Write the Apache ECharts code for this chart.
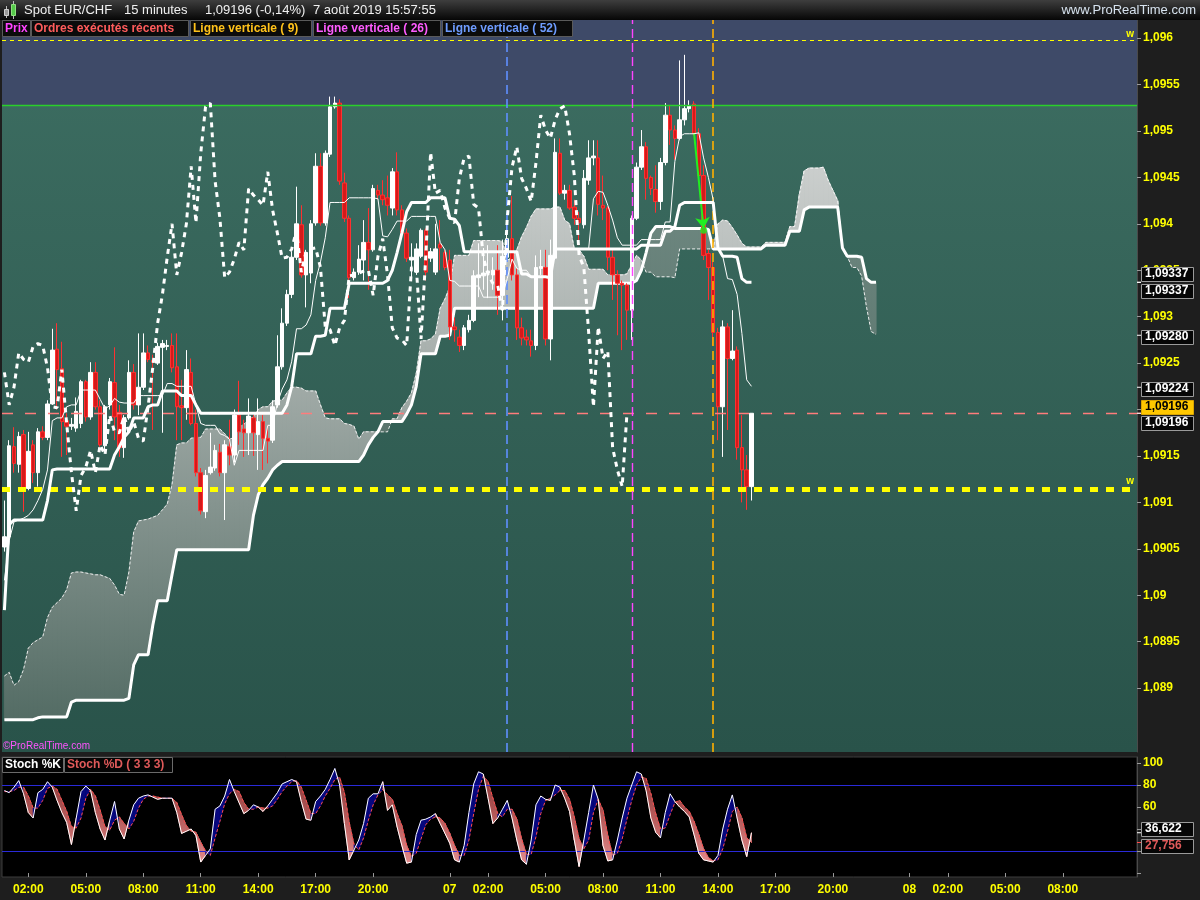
<!DOCTYPE html>
<html>
<head>
<meta charset="utf-8">
<title>Spot EUR/CHF 15 minutes</title>
<script src="https://cdn.jsdelivr.net/npm/echarts@6.0.0/dist/echarts.min.js"></script>
<style>
html,body{margin:0;padding:0;background:#1e1e1e;overflow:hidden;}
#chart{width:1200px;height:900px;}
</style>
</head>
<body>
<div id="chart"></div>
<script>
// ---------------- DATA ----------------
const opens = [
1.09052,1.09063,1.09160,1.09141,1.09173,1.09115,1.09162,1.09132,1.09176,1.09170,
1.09206,1.09265,1.09244,1.09188,1.09182,1.09180,1.09185,1.09230,1.09192,1.09240,
1.09203,1.09161,1.09205,1.09229,1.09197,1.09159,1.09191,1.09240,1.09205,1.09224,
1.09261,1.09253,1.09250,1.09267,1.09268,1.09269,1.09246,1.09204,1.09202,1.09240,
1.09185,1.09132,1.09090,1.09132,1.09137,1.09154,1.09132,1.09160,1.09151,1.09194,
1.09179,1.09175,1.09191,1.09173,1.09187,1.09169,1.09167,1.09205,1.09246,1.09293,
1.09324,1.09364,1.09399,1.09345,1.09347,1.09401,1.09462,1.09401,1.09475,1.09526,
1.09530,1.09444,1.09406,1.09342,1.09348,1.09361,1.09380,1.09372,1.09436,1.09431,
1.09428,1.09417,1.09456,1.09415,1.09390,1.09361,1.09348,1.09365,1.09393,1.09363,
1.09348,1.09378,1.09369,1.09361,1.09289,1.09278,1.09269,1.09286,1.09296,1.09342,
1.09344,1.09347,1.09345,1.09350,1.09323,1.09364,1.09384,1.09345,1.09288,1.09278,
1.09274,1.09269,1.09352,1.09353,1.09276,1.09363,1.09476,1.09433,1.09436,1.09418,
1.09406,1.09399,1.09447,1.09471,1.09471,1.09420,1.09417,1.09364,1.09345,1.09336,
1.09334,1.09307,1.09406,1.09461,1.09483,1.09450,1.09437,1.09424,1.09466,1.09517,
1.09501,1.09492,1.09512,1.09524,1.09529,1.09497,1.09452,1.09368,1.09353,1.09283,
1.09203,1.09289,1.09255,1.09264,1.09159,1.09135,1.09117];
const highs = [
1.09102,1.09167,1.09181,1.09176,1.09178,1.09176,1.09167,1.09180,1.09182,1.09210,
1.09287,1.09293,1.09273,1.09196,1.09191,1.09213,1.09232,1.09232,1.09251,1.09251,
1.09210,1.09205,1.09234,1.09267,1.09205,1.09194,1.09253,1.09249,1.09282,1.09282,
1.09269,1.09259,1.09272,1.09275,1.09275,1.09282,1.09282,1.09232,1.09264,1.09255,
1.09200,1.09137,1.09135,1.09175,1.09162,1.09163,1.09167,1.09189,1.09200,1.09231,
1.09189,1.09212,1.09194,1.09212,1.09194,1.09183,1.09210,1.09280,1.09309,1.09329,
1.09370,1.09440,1.09420,1.09372,1.09404,1.09476,1.09476,1.09479,1.09537,1.09537,
1.09534,1.09455,1.09409,1.09352,1.09377,1.09404,1.09417,1.09442,1.09442,1.09447,
1.09452,1.09460,1.09477,1.09420,1.09395,1.09379,1.09379,1.09395,1.09395,1.09374,
1.09400,1.09404,1.09372,1.09372,1.09299,1.09286,1.09291,1.09302,1.09350,1.09379,
1.09374,1.09377,1.09364,1.09377,1.09383,1.09399,1.09430,1.09352,1.09299,1.09286,
1.09286,1.09366,1.09372,1.09372,1.09383,1.09492,1.09492,1.09442,1.09442,1.09426,
1.09413,1.09458,1.09490,1.09490,1.09490,1.09452,1.09419,1.09372,1.09350,1.09339,
1.09336,1.09409,1.09466,1.09501,1.09488,1.09452,1.09463,1.09471,1.09530,1.09528,
1.09506,1.09576,1.09582,1.09533,1.09532,1.09503,1.09463,1.09372,1.09359,1.09288,
1.09296,1.09293,1.09307,1.09268,1.09194,1.09151,1.09196];
const lows = [
1.09047,1.09059,1.09132,1.09132,1.09090,1.09113,1.09121,1.09117,1.09167,1.09167,
1.09205,1.09200,1.09149,1.09151,1.09178,1.09176,1.09180,1.09187,1.09189,1.09200,
1.09160,1.09156,1.09200,1.09167,1.09149,1.09148,1.09189,1.09200,1.09194,1.09221,
1.09251,1.09178,1.09248,1.09175,1.09264,1.09240,1.09167,1.09167,1.09189,1.09183,
1.09128,1.09087,1.09083,1.09130,1.09134,1.09128,1.09081,1.09140,1.09143,1.09162,
1.09149,1.09151,1.09150,1.09135,1.09135,1.09142,1.09164,1.09202,1.09243,1.09290,
1.09320,1.09361,1.09342,1.09310,1.09336,1.09398,1.09398,1.09398,1.09472,1.09524,
1.09442,1.09402,1.09320,1.09339,1.09345,1.09339,1.09329,1.09370,1.09426,1.09420,
1.09409,1.09409,1.09409,1.09387,1.09359,1.09339,1.09345,1.09363,1.09339,1.09359,
1.09345,1.09350,1.09350,1.09275,1.09273,1.09262,1.09264,1.09283,1.09294,1.09321,
1.09329,1.09320,1.09329,1.09302,1.09296,1.09359,1.09339,1.09275,1.09269,1.09269,
1.09257,1.09264,1.09345,1.09269,1.09253,1.09361,1.09431,1.09426,1.09415,1.09399,
1.09377,1.09395,1.09442,1.09463,1.09409,1.09404,1.09350,1.09318,1.09280,1.09264,
1.09275,1.09275,1.09404,1.09458,1.09426,1.09431,1.09412,1.09415,1.09463,1.09485,
1.09469,1.09490,1.09506,1.09520,1.09495,1.09449,1.09361,1.09318,1.09269,1.09167,
1.09149,1.09178,1.09253,1.09146,1.09100,1.09092,1.09102];
const closes = [
1.09063,1.09161,1.09142,1.09171,1.09115,1.09155,1.09132,1.09176,1.09170,1.09206,
1.09264,1.09243,1.09187,1.09182,1.09184,1.09198,1.09230,1.09192,1.09240,1.09203,
1.09162,1.09203,1.09230,1.09192,1.09159,1.09191,1.09240,1.09205,1.09224,1.09261,
1.09254,1.09251,1.09268,1.09271,1.09269,1.09245,1.09203,1.09202,1.09243,1.09185,
1.09132,1.09091,1.09129,1.09138,1.09156,1.09132,1.09162,1.09151,1.09194,1.09176,
1.09175,1.09193,1.09175,1.09187,1.09169,1.09166,1.09203,1.09246,1.09293,1.09324,
1.09364,1.09400,1.09345,1.09369,1.09400,1.09462,1.09401,1.09476,1.09526,1.09530,
1.09446,1.09406,1.09342,1.09348,1.09362,1.09380,1.09372,1.09438,1.09431,1.09426,
1.09420,1.09456,1.09415,1.09390,1.09363,1.09364,1.09373,1.09393,1.09348,1.09370,
1.09373,1.09374,1.09353,1.09289,1.09286,1.09269,1.09288,1.09296,1.09344,1.09345,
1.09347,1.09349,1.09350,1.09323,1.09365,1.09384,1.09345,1.09288,1.09277,1.09275,
1.09269,1.09353,1.09354,1.09276,1.09366,1.09477,1.09433,1.09436,1.09417,1.09406,
1.09401,1.09449,1.09471,1.09473,1.09421,1.09417,1.09364,1.09345,1.09336,1.09334,
1.09307,1.09406,1.09461,1.09483,1.09449,1.09438,1.09424,1.09466,1.09517,1.09501,
1.09492,1.09512,1.09524,1.09527,1.09497,1.09452,1.09366,1.09353,1.09283,1.09203,
1.09289,1.09255,1.09263,1.09159,1.09135,1.09117,1.09196];
// Ichimoku lines
const tenkan = [
1.09016,1.09059,1.09079,1.09081,1.09083,1.09086,1.09092,1.09102,1.09114,1.09135,
1.09188,1.09191,1.09191,1.09203,1.09205,1.09205,1.09221,1.09221,1.09221,1.09221,
1.09211,1.09201,1.09204,1.09212,1.09208,1.09207,1.09207,1.09207,1.09215,1.09215,
1.09215,1.09215,1.09215,1.09215,1.09228,1.09228,1.09225,1.09225,1.09225,1.09225,
1.09205,1.09185,1.09183,1.09183,1.09183,1.09174,1.09172,1.09168,1.09140,1.09156,
1.09156,1.09156,1.09156,1.09156,1.09156,1.09183,1.09183,1.09207,1.09222,1.09232,
1.09252,1.09287,1.09287,1.09291,1.09302,1.09339,1.09359,1.09385,1.09423,1.09423,
1.09423,1.09423,1.09428,1.09428,1.09428,1.09428,1.09428,1.09428,1.09427,1.09387,
1.09386,1.09394,1.09403,1.09403,1.09403,1.09408,1.09408,1.09408,1.09408,1.09408,
1.09408,1.09380,1.09372,1.09339,1.09338,1.09333,1.09333,1.09333,1.09333,1.09333,
1.09321,1.09321,1.09321,1.09321,1.09323,1.09341,1.09362,1.09352,1.09350,1.09350,
1.09343,1.09343,1.09343,1.09343,1.09342,1.09373,1.09373,1.09373,1.09373,1.09373,
1.09373,1.09373,1.09373,1.09427,1.09435,1.09434,1.09420,1.09404,1.09385,1.09377,
1.09377,1.09377,1.09377,1.09383,1.09383,1.09383,1.09383,1.09383,1.09402,1.09402,
1.09467,1.09494,1.09497,1.09497,1.09497,1.09498,1.09471,1.09450,1.09426,1.09374,
1.09365,1.09341,1.09340,1.09324,1.09282,1.09232,1.09225];
const kijun = [
1.08984,1.09076,1.09081,1.09081,1.09081,1.09081,1.09081,1.09081,1.09081,1.09102,
1.09135,1.09136,1.09136,1.09136,1.09136,1.09136,1.09136,1.09136,1.09136,1.09136,
1.09136,1.09136,1.09136,1.09151,1.09160,1.09170,1.09176,1.09191,1.09191,1.09191,
1.09203,1.09205,1.09205,1.09220,1.09220,1.09220,1.09220,1.09215,1.09215,1.09215,
1.09205,1.09196,1.09196,1.09196,1.09196,1.09196,1.09196,1.09196,1.09196,1.09196,
1.09196,1.09196,1.09196,1.09196,1.09196,1.09196,1.09196,1.09196,1.09196,1.09205,
1.09225,1.09260,1.09260,1.09260,1.09260,1.09279,1.09279,1.09280,1.09309,1.09309,
1.09309,1.09309,1.09336,1.09336,1.09336,1.09336,1.09336,1.09336,1.09336,1.09336,
1.09339,1.09350,1.09369,1.09390,1.09413,1.09423,1.09423,1.09423,1.09423,1.09428,
1.09428,1.09428,1.09428,1.09406,1.09405,1.09398,1.09370,1.09370,1.09370,1.09370,
1.09370,1.09370,1.09370,1.09370,1.09370,1.09370,1.09370,1.09370,1.09346,1.09346,
1.09343,1.09343,1.09343,1.09343,1.09342,1.09373,1.09373,1.09373,1.09373,1.09373,
1.09373,1.09373,1.09373,1.09373,1.09373,1.09373,1.09373,1.09373,1.09373,1.09373,
1.09373,1.09373,1.09373,1.09377,1.09377,1.09377,1.09377,1.09377,1.09392,1.09392,
1.09397,1.09420,1.09423,1.09423,1.09423,1.09423,1.09423,1.09423,1.09423,1.09374,
1.09365,1.09365,1.09365,1.09364,1.09341,1.09337,1.09337];
const chikou = [
1.09240,1.09205,1.09224,1.09261,1.09254,1.09251,1.09268,1.09271,1.09269,1.09245,
1.09203,1.09202,1.09243,1.09185,1.09132,1.09091,1.09129,1.09138,1.09156,1.09132,
1.09162,1.09151,1.09194,1.09176,1.09175,1.09193,1.09175,1.09187,1.09169,1.09166,
1.09203,1.09246,1.09293,1.09324,1.09364,1.09400,1.09345,1.09369,1.09400,1.09462,
1.09401,1.09476,1.09526,1.09530,1.09446,1.09406,1.09342,1.09348,1.09362,1.09380,
1.09372,1.09438,1.09431,1.09426,1.09420,1.09456,1.09415,1.09390,1.09363,1.09364,
1.09373,1.09393,1.09348,1.09370,1.09373,1.09374,1.09353,1.09289,1.09286,1.09269,
1.09288,1.09296,1.09344,1.09345,1.09347,1.09349,1.09350,1.09323,1.09365,1.09384,
1.09345,1.09288,1.09277,1.09275,1.09269,1.09353,1.09354,1.09276,1.09366,1.09477,
1.09433,1.09436,1.09417,1.09406,1.09401,1.09449,1.09471,1.09473,1.09421,1.09417,
1.09364,1.09345,1.09336,1.09334,1.09307,1.09406,1.09461,1.09483,1.09449,1.09438,
1.09424,1.09466,1.09517,1.09501,1.09492,1.09512,1.09524,1.09527,1.09497,1.09452,
1.09366,1.09353,1.09283,1.09203,1.09289,1.09255,1.09263,1.09159,1.09135,1.09117,
1.09196];
const senkouA = [
1.08913,1.08917,1.08903,1.08907,1.08920,1.08943,1.08949,1.08952,1.08955,1.08976,
1.08987,1.08992,1.08997,1.09006,1.09024,1.09025,1.09025,1.09024,1.09023,1.09022,
1.09022,1.09020,1.09018,1.09011,1.09001,1.09000,1.09025,1.09068,1.09080,1.09081,
1.09082,1.09084,1.09086,1.09092,1.09098,1.09119,1.09162,1.09164,1.09164,1.09169,
1.09170,1.09170,1.09179,1.09179,1.09179,1.09179,1.09174,1.09168,1.09170,1.09181,
1.09184,1.09189,1.09192,1.09200,1.09203,1.09203,1.09209,1.09210,1.09210,1.09218,
1.09224,1.09224,1.09223,1.09220,1.09220,1.09220,1.09205,1.09191,1.09190,1.09190,
1.09190,1.09185,1.09184,1.09182,1.09168,1.09176,1.09176,1.09176,1.09176,1.09176,
1.09176,1.09190,1.09190,1.09202,1.09209,1.09218,1.09239,1.09274,1.09274,1.09276,
1.09281,1.09309,1.09319,1.09332,1.09366,1.09366,1.09366,1.09366,1.09382,1.09382,
1.09382,1.09382,1.09382,1.09382,1.09381,1.09361,1.09363,1.09372,1.09386,1.09396,
1.09408,1.09416,1.09416,1.09416,1.09416,1.09418,1.09418,1.09404,1.09400,1.09373,
1.09372,1.09365,1.09351,1.09351,1.09351,1.09351,1.09345,1.09345,1.09345,1.09345,
1.09346,1.09356,1.09366,1.09361,1.09348,1.09348,1.09343,1.09343,1.09343,1.09343,
1.09342,1.09373,1.09373,1.09373,1.09373,1.09373,1.09373,1.09373,1.09373,1.09400,
1.09404,1.09403,1.09396,1.09388,1.09379,1.09375,1.09375,1.09375,1.09375,1.09380,
1.09380,1.09380,1.09380,1.09380,1.09397,1.09397,1.09432,1.09457,1.09460,1.09460,
1.09460,1.09461,1.09447,1.09436,1.09425,1.09374,1.09365,1.09353,1.09353,1.09344,
1.09311,1.09284,1.09281];
const senkouB = [
1.08866,1.08866,1.08866,1.08866,1.08866,1.08866,1.08866,1.08868,1.08869,1.08869,
1.08869,1.08869,1.08869,1.08869,1.08885,1.08887,1.08887,1.08887,1.08887,1.08887,
1.08887,1.08887,1.08887,1.08887,1.08887,1.08887,1.08889,1.08925,1.08936,1.08936,
1.08936,1.08968,1.08994,1.08994,1.08994,1.09022,1.09049,1.09049,1.09049,1.09049,
1.09049,1.09049,1.09049,1.09049,1.09049,1.09049,1.09049,1.09049,1.09049,1.09049,
1.09049,1.09049,1.09086,1.09108,1.09119,1.09126,1.09135,1.09140,1.09144,1.09144,
1.09144,1.09144,1.09144,1.09144,1.09144,1.09144,1.09144,1.09144,1.09144,1.09144,
1.09144,1.09144,1.09144,1.09144,1.09144,1.09151,1.09162,1.09170,1.09176,1.09187,
1.09187,1.09187,1.09187,1.09187,1.09195,1.09205,1.09225,1.09260,1.09260,1.09260,
1.09260,1.09279,1.09279,1.09280,1.09309,1.09309,1.09309,1.09309,1.09309,1.09309,
1.09309,1.09309,1.09309,1.09309,1.09309,1.09309,1.09309,1.09309,1.09309,1.09309,
1.09309,1.09309,1.09309,1.09309,1.09309,1.09309,1.09309,1.09309,1.09309,1.09309,
1.09309,1.09309,1.09309,1.09309,1.09336,1.09336,1.09336,1.09336,1.09336,1.09336,
1.09336,1.09336,1.09339,1.09350,1.09369,1.09390,1.09397,1.09397,1.09397,1.09397,
1.09395,1.09395,1.09395,1.09395,1.09395,1.09395,1.09395,1.09394,1.09373,1.09373,
1.09373,1.09373,1.09373,1.09373,1.09373,1.09373,1.09373,1.09373,1.09373,1.09377,
1.09377,1.09377,1.09377,1.09377,1.09392,1.09392,1.09392,1.09415,1.09418,1.09418,
1.09418,1.09418,1.09418,1.09418,1.09418,1.09374,1.09365,1.09365,1.09365,1.09364,
1.09341,1.09337,1.09337];
// Stochastic
const stochK = [
75,73,78,84,72,55,50,73,76,83, 78,66,55,46,26,50,74,79,75,55,
40,30,48,65,40,31,48,62,68,70, 71,69,67,68,68,68,55,36,38,40,
34,10,16,22,58,61,70,85,74,64, 54,57,62,60,56,61,67,73,81,83,
85,83,65,49,48,65,70,76,85,95, 80,45,12,21,30,45,68,72,72,83,
57,62,42,25,9,10,35,48,49,51, 54,45,36,27,12,10,25,55,81,92,
90,68,45,50,58,66,50,30,12,8, 30,62,70,67,66,80,78,68,56,30,
6,30,55,80,67,25,11,12,30,50, 68,80,92,90,75,50,37,32,55,72,
65,60,56,51,35,18,12,11,10,16, 40,58,71,50,30,15,36.622];
const stochD = [
74,74,75,78,78,70,59,59,66,77, 79,76,66,56,42,41,50,68,76,70,
57,42,39,48,51,45,40,47,59,67, 70,70,69,68,68,68,64,53,43,38,
37,28,20,16,32,47,63,72,76,74, 64,58,58,60,59,59,61,67,74,79,
83,84,78,66,54,54,61,70,77,85, 87,73,46,26,21,32,48,62,71,76,
71,67,54,43,25,15,18,31,44,49, 51,50,45,36,25,16,16,30,54,76,
88,83,68,54,51,58,58,49,31,17, 17,33,54,66,68,71,75,75,67,51,
31,22,30,55,67,57,34,16,18,31, 49,66,80,87,86,72,54,40,41,53,
64,66,60,56,47,35,22,14,11,12, 22,38,56,60,50,32,27.756];
// Axis ticks / labels
const priceTicks = [1.089,1.0895,1.09,1.0905,1.091,1.0915,1.092,1.0925,1.093,1.0935,1.094,1.0945,1.095,1.0955,1.096];
const stochTicks = [0,20,40,60,80,100];
const stochLabelVals = [20,40,60,80,100];
const xTickTimes = ['06 02:00','06 05:00','06 08:00','06 11:00','06 14:00','06 17:00','06 20:00','07 00:00','07 02:00','07 05:00','07 08:00','07 11:00','07 14:00','07 17:00','07 20:00','08 00:00','08 02:00','08 05:00','08 08:00'];
const xTickTexts = ['02:00','05:00','08:00','11:00','14:00','17:00','20:00','07','02:00','05:00','08:00','11:00','14:00','17:00','20:00','08','02:00','05:00','08:00'];
// Levels and markers
const levelTop = 1.09598;
const levelSupport = 1.09114;
const levelLast = 1.09196;
const levelHigh = 1.09528;
const vLine9 = 148, vLine26 = 131, vLine52 = 105;
const orderFrom = [144, 1.09498], orderTo = [146, 1.09395], orderDot = [146, 1.09393];
const lastTags = [1.09337, 1.09337, 1.09280, 1.09224, 1.09196, 1.09196];
const stochTags = [36.622, 27.756];

// ---------------- categories (15 min bars) ----------------
const categories = [];
(function(){
  const start = Date.UTC(2019, 7, 6, 0, 45);
  for (let i = 0; i < 237; i++) {
    const t = new Date(start + i * 15 * 60000);
    const p = n => String(n).padStart(2, '0');
    categories.push(p(t.getUTCDate()) + ' ' + p(t.getUTCHours()) + ':' + p(t.getUTCMinutes()));
  }
})();
const N = categories.length;
function padTo(arr){ const o = arr.slice(); while (o.length < N) o.push(null); return o; }

const Y0MIN = 1.088312, Y0MAX = 1.096195;
const Y1MIN = -3.6, Y1MAX = 105.45;
const FONT = '"Liberation Sans", Arial, sans-serif';

const candleData = opens.map((o, i) => [o, closes[i], lows[i], highs[i]]);
const cloudData = [];
for (let i = 0; i < senkouA.length - 1; i++) cloudData.push([i, senkouA[i], senkouB[i], senkouA[i+1], senkouB[i+1]]);
const stochFillData = [];
for (let i = 0; i < stochK.length - 1; i++) stochFillData.push([i, stochK[i], stochD[i], stochK[i+1], stochD[i+1]]);

const chart = echarts.init(document.getElementById('chart'), null, {renderer: 'canvas', width: 1200, height: 900});

const isTick = (idx, val) => xTickTimes.indexOf(val) >= 0;

function cloudItem(params, api) {
  const i = api.value(0);
  const a0 = api.value(1), b0 = api.value(2), a1 = api.value(3), b1 = api.value(4);
  const pts = [api.coord([i, a0]), api.coord([i + 1, a1]), api.coord([i + 1, b1]), api.coord([i, b0])];
  const bull = (a0 + a1) >= (b0 + b1);
  const yt = api.coord([0, Y0MAX])[1], yb = api.coord([0, Y0MIN])[1];
  const stops = bull
    ? [{offset: 0, color: '#e6e6e6'}, {offset: 0.45, color: '#a9b1ae'}, {offset: 1, color: '#4c665e'}]
    : [{offset: 0, color: '#7d968f'}, {offset: 1, color: '#3f5a52'}];
  const grad = new echarts.graphic.LinearGradient(0, yt, 0, yb, stops, true);
  return {type: 'polygon', shape: {points: pts}, style: {fill: grad, stroke: grad, lineWidth: 0.7}};
}
function stochItem(params, api) {
  const i = api.value(0);
  const k0 = api.value(1), d0 = api.value(2), k1 = api.value(3), d1 = api.value(4);
  const pts = [api.coord([i, k0]), api.coord([i + 1, k1]), api.coord([i + 1, d1]), api.coord([i, d0])];
  const up = (k0 + k1) >= (d0 + d1);
  const yt = api.coord([0, Y1MAX])[1], yb = api.coord([0, Y1MIN])[1];
  const fill = up ? '#07077f' : new echarts.graphic.LinearGradient(0, yt, 0, yb,
      [{offset: 0, color: '#7a2c2c'}, {offset: 0.5, color: '#b55a5a'}, {offset: 1, color: '#f09a9a'}], true);
  return {type: 'polygon', shape: {points: pts}, style: {fill: fill, stroke: fill, lineWidth: 0.6}};
}

const wLabel = (d) => ({show: true, position: 'insideEndTop', formatter: 'w', color: '#ffff00',
  fontWeight: 'bold', fontSize: 10, fontFamily: FONT, distance: d});

const option = {
  animation: false,
  backgroundColor: '#1e1e1e',
  grid: [
    {left: 2, top: 20, width: 1135, height: 732, show: true, borderWidth: 0,
     backgroundColor: {type: 'linear', x: 0, y: 0, x2: 0, y2: 1,
       colorStops: [{offset: 0, color: '#3d6e62'}, {offset: 1, color: '#29534a'}]}},
    {left: 2, top: 757, width: 1135, height: 120, show: true, borderWidth: 1, borderColor: '#3c3c3c',
     backgroundColor: '#000000'}
  ],
  xAxis: [
    {type: 'category', gridIndex: 0, data: categories, boundaryGap: true, show: false},
    {type: 'category', gridIndex: 1, data: categories, boundaryGap: true,
     axisLine: {show: false},
     axisTick: {show: true, interval: isTick, alignWithLabel: true, length: 4, lineStyle: {color: '#9a9a9a'}},
     axisLabel: {interval: isTick, formatter: (v) => xTickTexts[xTickTimes.indexOf(v)],
       color: '#ffff00', fontWeight: 'bold', fontSize: 12, fontFamily: FONT, margin: 7},
     splitLine: {show: false}}
  ],
  yAxis: [
    {type: 'value', gridIndex: 0, position: 'right', min: Y0MIN, max: Y0MAX, scale: true,
     axisLine: {show: true, lineStyle: {color: '#4a4a4a'}},
     axisTick: {show: true, customValues: priceTicks, length: 4, lineStyle: {color: '#9a9a9a'}},
     axisLabel: {customValues: priceTicks, formatter: (v) => String(+(+v).toFixed(4)).replace('.', ','),
       color: '#ffff00', fontWeight: 'bold', fontSize: 12, fontFamily: FONT, margin: 6},
     splitLine: {show: false}},
    {type: 'value', gridIndex: 1, position: 'right', min: Y1MIN, max: Y1MAX,
     axisLine: {show: true, lineStyle: {color: '#4a4a4a'}},
     axisTick: {show: true, customValues: stochTicks, length: 4, lineStyle: {color: '#9a9a9a'}},
     axisLabel: {customValues: stochLabelVals, formatter: (v) => String(v),
       color: '#ffff00', fontWeight: 'bold', fontSize: 12, fontFamily: FONT, margin: 6},
     splitLine: {show: false}}
  ],
  series: [
    // background zone holder
    {type: 'line', name: 'zone', xAxisIndex: 0, yAxisIndex: 0, data: padTo(closes), symbol: 'none',
     lineStyle: {opacity: 0}, silent: true, z: 1,
     markArea: {silent: true, itemStyle: {color: '#3e4a68', opacity: 1}, label: {show: false},
       data: [[{yAxis: levelHigh}, {yAxis: Y0MAX}]]},
     markLine: {silent: true, symbol: 'none', precision: 6, label: {show: false},
       lineStyle: {color: '#2ad02a', width: 1.4, type: 'solid'},
       data: [{yAxis: levelHigh}]}},
    // cloud
    {type: 'custom', name: 'cloud', xAxisIndex: 0, yAxisIndex: 0, renderItem: cloudItem, data: cloudData,
     encode: {x: 0, y: [1, 2, 3, 4]}, silent: true, z: 2},
    {type: 'line', name: 'Senkou A', xAxisIndex: 0, yAxisIndex: 0, data: padTo(senkouA), symbol: 'none',
     lineStyle: {color: 'rgba(255,255,255,0.85)', width: 1, type: [3, 2]}, z: 3},
    {type: 'line', name: 'Senkou B', xAxisIndex: 0, yAxisIndex: 0, data: padTo(senkouB), symbol: 'none',
     lineStyle: {color: '#ffffff', width: 3}, z: 3},
    // candles
    {type: 'candlestick', name: 'Prix', xAxisIndex: 0, yAxisIndex: 0, data: candleData, barWidth: 4,
     itemStyle: {color: '#ffffff', color0: '#d41a1a', borderColor: '#ffffff', borderColor0: '#ff3030', borderWidth: 1},
     z: 4},
    // chikou
    {type: 'line', name: 'Chikou', xAxisIndex: 0, yAxisIndex: 0, data: padTo(chikou), symbol: 'none',
     lineStyle: {color: '#ffffff', width: 3, type: [5, 5], cap: 'butt'}, z: 5},
    {type: 'line', name: 'Tenkan', xAxisIndex: 0, yAxisIndex: 0, data: padTo(tenkan), symbol: 'none',
     lineStyle: {color: '#ffffff', width: 1}, z: 6},
    {type: 'line', name: 'Kijun', xAxisIndex: 0, yAxisIndex: 0, data: padTo(kijun), symbol: 'none',
     lineStyle: {color: '#ffffff', width: 3}, z: 6},
    // level lines and vertical lines (holder series, invisible)
    {type: 'line', name: 'levels', xAxisIndex: 0, yAxisIndex: 0, data: padTo(closes), symbol: 'none',
     lineStyle: {opacity: 0}, silent: true, z: 7,
     markLine: {silent: true, symbol: 'none', precision: 6, animation: false,
       data: [
         {yAxis: levelTop, lineStyle: {color: '#ffff00', width: 1, type: [4, 4]}, label: wLabel([3, 1])},
         {yAxis: levelSupport, lineStyle: {color: '#ffff00', width: 5, type: [8, 8]}, label: wLabel([3, 3])},
         {yAxis: levelLast, lineStyle: {color: '#ff7c7c', width: 1.4, type: [11, 12]}, label: {show: false}},
         {xAxis: categories[vLine52], lineStyle: {color: '#5f8fff', width: 1.6, type: [9, 5]}, label: {show: false}},
         {xAxis: categories[vLine26], lineStyle: {color: '#ff44ff', width: 1.4, type: [9, 5]}, label: {show: false}},
         {xAxis: categories[vLine9], lineStyle: {color: '#ffb000', width: 1.6, type: [9, 5]}, label: {show: false}}
       ]}},
    // executed order: arrow + dot
    {type: 'scatter', name: 'Ordres', xAxisIndex: 0, yAxisIndex: 0, data: [orderDot], symbol: 'circle', symbolSize: 7,
     itemStyle: {color: '#22ee22'}, z: 8,
     markLine: {silent: true, symbol: 'none', precision: 6, animation: false,
       data: [
         [{coord: [categories[orderFrom[0]], orderFrom[1]], symbol: 'none'},
          {coord: [categories[orderTo[0]], orderTo[1]], symbol: 'arrow', symbolSize: 11,
           lineStyle: {color: '#22ee22', width: 2, type: 'solid'}, label: {show: false}}]
       ]}},
    // stochastic panel
    {type: 'line', name: 'stochLevels', xAxisIndex: 1, yAxisIndex: 1, data: padTo(stochK), symbol: 'none',
     lineStyle: {opacity: 0}, silent: true, z: 2,
     markLine: {silent: true, symbol: 'none', precision: 4, label: {show: false},
       lineStyle: {color: '#2a2ad8', width: 1.2, type: 'solid'},
       data: [{yAxis: 80}, {yAxis: 20}]}},
    {type: 'custom', name: 'stochFill', xAxisIndex: 1, yAxisIndex: 1, renderItem: stochItem, data: stochFillData,
     encode: {x: 0, y: [1, 2, 3, 4]}, silent: true, z: 3},
    {type: 'line', name: 'Stoch %D', xAxisIndex: 1, yAxisIndex: 1, data: padTo(stochD), symbol: 'none',
     lineStyle: {color: '#ff4d4d', width: 1, type: [3, 2]}, z: 5},
    {type: 'line', name: 'Stoch %K', xAxisIndex: 1, yAxisIndex: 1, data: padTo(stochK), symbol: 'none',
     lineStyle: {color: '#ffffff', width: 1}, z: 6}
  ]
};
chart.setOption(option);

// ---------------- text overlays (header, legend, value tags) ----------------
const g = [];
function txt(x, y, s, color, size, weight, align, z) {
  return {type: 'text', x: x, y: y, z: z || 120, silent: true,
    style: {text: s, fill: color, font: (weight || 'normal') + ' ' + size + 'px ' + FONT,
      textAlign: align || 'left', textVerticalAlign: 'middle', align: align || 'left', verticalAlign: 'middle'}};
}
function box(x, y, w, h, fill, stroke, z) {
  return {type: 'rect', z: z || 110, silent: true, shape: {x: x, y: y, width: w, height: h},
    style: {fill: fill, stroke: stroke, lineWidth: 1}};
}
// header bar
g.push({type: 'rect', z: 100, silent: true, shape: {x: 0, y: 0, width: 1200, height: 20},
  style: {fill: new echarts.graphic.LinearGradient(0, 0, 0, 1, [{offset: 0, color: '#3e3e3e'}, {offset: 1, color: '#060606'}])}});
// small candle icon
g.push({type: 'line', z: 115, silent: true, shape: {x1: 6.5, y1: 6, x2: 6.5, y2: 18}, style: {stroke: '#bbbbbb', lineWidth: 1}});
g.push(box(4.5, 9.5, 4, 6, '#9a9a9a', '#cfcfcf', 116));
g.push({type: 'line', z: 115, silent: true, shape: {x1: 13.5, y1: 1, x2: 13.5, y2: 19}, style: {stroke: '#bbbbbb', lineWidth: 1}});
g.push(box(11.5, 4.5, 4, 11, '#55c94a', '#8ee07f', 116));
g.push(txt(24, 10, 'Spot EUR/CHF', '#f0f0f0', 13));
g.push(txt(124, 10, '15 minutes', '#f0f0f0', 13));
g.push(txt(205, 10, '1,09196 (-0,14%)', '#f0f0f0', 13));
g.push(txt(313, 10, '7 août 2019 15:57:55', '#f0f0f0', 13));
g.push(txt(1196, 10, 'www.ProRealTime.com', '#d6e2ee', 13, 'normal', 'right'));
// legend boxes
const legendItems = [
  ['Prix', '#ff44ff', 2, 28],
  ['Ordres exécutés récents', '#ff5c5c', 31, 157],
  ['Ligne verticale ( 9)', '#ffc21a', 190, 121],
  ['Ligne verticale ( 26)', '#ff5cff', 313, 127],
  ['Ligne verticale ( 52)', '#6e9cff', 442, 130]
];
legendItems.forEach(it => {
  g.push(box(it[2] + 0.5, 20.5, it[3], 16, '#0b0b0b', '#5a5a5a'));
  g.push(txt(it[2] + 3, 29, it[0], it[1], 12, 'bold'));
});
// copyright
g.push(txt(3, 746, '\u00a9ProRealTime.com', '#ff55ff', 10));
// stoch legend
g.push(box(2.5, 757.5, 61, 15, '#050505', '#6a6a6a'));
g.push(txt(5, 765, 'Stoch %K', '#ffffff', 12, 'bold'));
g.push(box(64.5, 757.5, 108, 15, '#050505', '#6a6a6a'));
g.push(txt(67, 765, 'Stoch %D ( 3 3 3)', '#e05a5a', 12, 'bold'));

// price tags on the right axis (positioned from the axis scale)
const tagOffsets = [-8, 9, 2, 2, -6, 10];
lastTags.forEach((v, i) => {
  const yv = chart.convertToPixel({yAxisIndex: 0}, v);
  const y = yv + tagOffsets[i];
  const yellow = (i === 4);
  g.push({type: 'line', z: 112, silent: true, shape: {x1: 1137, y1: yv, x2: 1141, y2: yv},
    style: {stroke: yellow ? '#ff7c7c' : '#ffffff', lineWidth: 1}});
  g.push(box(1141.5, Math.round(y - 7) + 0.5, 52, 14, yellow ? '#ffc800' : '#060606', yellow ? '#d9a400' : '#9a9a9a', 113));
  g.push(txt(1145, Math.round(y), v.toFixed(5).replace('.', ','), yellow ? '#000000' : '#ffffff', 12, 'bold', 'left', 121));
});
const stochOffsets = [-4, 4];
stochTags.forEach((v, i) => {
  const yv = chart.convertToPixel({yAxisIndex: 1}, v);
  const y = yv + stochOffsets[i];
  g.push({type: 'line', z: 112, silent: true, shape: {x1: 1137, y1: yv, x2: 1141, y2: yv},
    style: {stroke: i === 0 ? '#ffffff' : '#ff4d4d', lineWidth: 1}});
  g.push(box(1141.5, Math.round(y - 7) + 0.5, 52, 14, '#060606', '#9a9a9a', 113));
  g.push(txt(1145, Math.round(y), v.toFixed(3).replace('.', ','), i === 0 ? '#ffffff' : '#e05a5a', 12, 'bold', 'left', 121));
});
chart.setOption({graphic: {elements: g}});
</script>
</body>
</html>
